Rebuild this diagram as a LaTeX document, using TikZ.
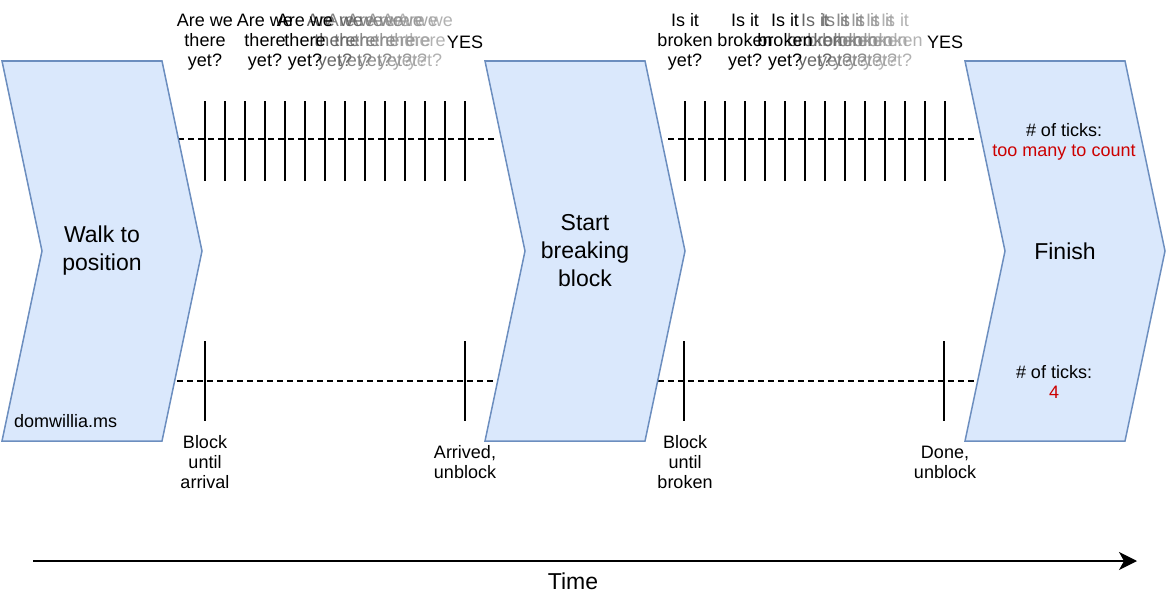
\documentclass[tikz,border=0pt]{standalone}
\usepackage{fontspec}
\setmainfont{Liberation Sans}
\usetikzlibrary{arrows.meta, positioning, calc}
\definecolor{stepfill}{HTML}{DAE8FC}
\definecolor{stepline}{HTML}{6C8EBF}
\definecolor{countred}{HTML}{CC0000}

\newcommand{\chevronstep}[3]{%
    \draw[chevron] (#1,61) -- ++(160,0) -- ++(40,190) -- ++(-40,190)
        -- ++(-160,0) -- ++(40,-190) -- cycle;
    \node[bigtext] (#2) at (#1+100,251) {#3};}

\begin{document}
\begin{tikzpicture}[x=1pt, y=-1pt,
    chevron/.style={draw=stepline, fill=stepfill, line width=1.5pt},
    waitline/.style={draw, dash pattern=on 6pt off 4pt, line width=1.5pt},
    tickline/.style={draw, line width=1.6pt},
    smalltext/.style={align=center, inner sep=0pt, font=\fontsize{18}{20}\selectfont},
    bigtext/.style={align=center, inner sep=0pt, font=\fontsize{23}{28}\selectfont}]
    \useasboundingbox (0,0) rectangle (1166,602);

    % waiting lines, under the steps
    \coordinate (wa) at (178,139);  \coordinate (wb) at (495,139);
    \coordinate (wc) at (668,139);  \coordinate (wd) at (975,139);
    \coordinate (wf) at (177,381);  \coordinate (wg) at (495,381);
    \coordinate (wh) at (658,381);  \coordinate (wi) at (975,381);
    \draw[waitline] (wa) -- (wb);
    \draw[waitline] (wc) -- (wd);
    \draw[waitline] (wf) -- (wg);
    \draw[waitline] (wh) -- (wi);

    % steps
    \chevronstep{2}{walk}{Walk to\\position}
    \chevronstep{485}{breaking}{Start\\breaking\\block}
    \chevronstep{965}{finish}{Finish}
    \node[smalltext, anchor=west] (site) at (14,421) {domwillia.ms};

    % polling ticks
    \foreach \x in {205,225,...,465}
        \draw[tickline] (\x,101) -- (\x,181);
    \foreach \x in {685,705,...,945}
        \draw[tickline] (\x,101) -- (\x,181);
    % blocking ticks
    \foreach \x in {205,465,684,944}
        \draw[tickline] (\x,341) -- (\x,421);

    % questions
    \foreach \x/\g in {425/30,410/35,395/40,375/45,355/50,335/60}
        \node[smalltext, text=black!\g] (askg\x) at (\x,42) {Are we\\there\\yet?};
    \foreach \x in {205,265,305}
        \node[smalltext] (ask\x) at (\x,42) {Are we\\there\\yet?};
    \node[smalltext] (yesa) at (465,42) {YES};
    \foreach \x/\g in {895/30,880/35,865/40,850/45,835/50,815/60}
        \node[smalltext, text=black!\g] (brokeg\x) at (\x,42) {Is it\\broken\\yet?};
    \foreach \x in {685,745,785}
        \node[smalltext] (broke\x) at (\x,42) {Is it\\broken\\yet?};
    \node[smalltext] (yesb) at (945,42) {YES};

    % counts
    \node[smalltext] (counta) at (1064,142) {\# of ticks:\\\textcolor{countred}{too many to count}};
    \node[smalltext] (countb) at (1054,382) {\# of ticks:\\\textcolor{countred}{4}};

    % blocking labels
    \node[smalltext] (blocka) at (205,462) {Block\\until\\arrival};
    \node[smalltext] (unblocka) at (465,462) {Arrived,\\unblock};
    \node[smalltext] (blockb) at (685,462) {Block\\until\\broken};
    \node[smalltext] (unblockb) at (945,462) {Done,\\unblock};

    % time axis
    \coordinate (tstart) at (33,561);
    \coordinate (tend) at (1137,561);
    \draw[line width=1.6pt, -{Stealth[length=18pt, width=18pt, inset=5pt]}] (tstart) -- (tend);
    \node[bigtext] (timelabel) at (573,581) {Time};
\end{tikzpicture}
\end{document}
